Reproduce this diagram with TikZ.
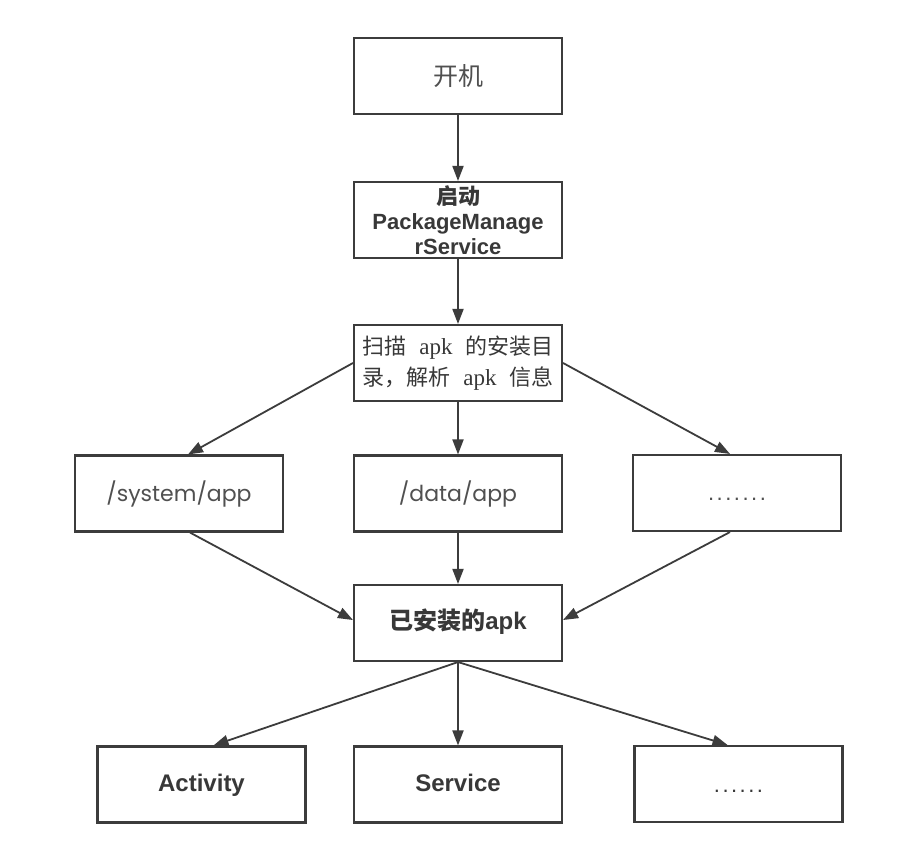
\documentclass[tikz,border=0pt]{standalone}
\usepackage{fontspec}
\setmainfont{Liberation Sans}
\newfontfamily\cjk{Noto Sans CJK SC}
\newfontfamily\serifrm{Liberation Serif}
\newfontfamily\geo{Poppins}
\usetikzlibrary{arrows.meta}

\definecolor{ink}{HTML}{3C3C3C}
\definecolor{txt}{HTML}{383838}
\definecolor{softtxt}{HTML}{505050}

% a row of widely spaced dots
\newcommand\dotrow[2]{\rule{0pt}{#2}\foreach \k in {1,...,#1}{\ifnum\k>1\kern2.5pt\fi.}}

\begin{document}
\begin{tikzpicture}[x=1pt,y=-1pt,
  box/.style={draw=ink, line width=2.1pt, minimum width=208pt, minimum height=76pt,
              inner sep=0pt, text=txt, align=center},
  arr/.style={draw=ink, line width=1.8pt, -{Triangle[length=15pt,width=11pt]}},
  pathfont/.style={font=\geo\fontsize{22}{26}\selectfont, text=softtxt},
  boldfont/.style={font=\bfseries\fontsize{24}{28}\selectfont, text height=18pt, text depth=5pt}
]
\useasboundingbox[fill=white] (0,0) rectangle (924,852);

% top chain
\node[box, font=\cjk\fontsize{25}{28}\selectfont, text=softtxt] (boot) at (458,76) {开机};
\node[box, font=\bfseries\fontsize{22}{25}\selectfont] (pms) at (458,220)
  {{\cjk 启动}\\PackageManage\\rService};
\node[box, font=\fontsize{22}{31}\selectfont] (scan) at (458,363)
  {{\cjk 扫描}\hspace{0.6em}{\serifrm\fontsize{23}{31}\selectfont apk}\hspace{0.6em}{\cjk 的安装目}\\
   {\cjk 录，解析}\hspace{0.6em}{\serifrm\fontsize{23}{31}\selectfont apk}\hspace{0.6em}{\cjk 信息}};

% install directories
\node[box, pathfont] (sys)   at (179,493.5)   {/system/app};
\node[box, pathfont] (data)  at (458,493.5)   {/data/app};
\node[box, font=\fontsize{22}{26}\selectfont, text=softtxt] (more1) at (737,493) {\dotrow{7}{14pt}};

% installed packages
\node[box, boldfont] (inst) at (458,623) {{\cjk 已安装的}apk};

% components
\node[box, boldfont] (act)   at (201.5,784.5) {Activity};
\node[box, boldfont] (svc)   at (458,784.5)   {Service};
\node[box, font=\fontsize{22}{26}\selectfont] (more2) at (738.5,784) {\dotrow{6}{16pt}};

% connectors
\draw[arr] (boot.south) -- (pms.north);
\draw[arr] (pms.south) -- (scan.north);
\draw[arr] (scan.west) -- ([xshift=9pt]sys.north);
\draw[arr] (scan.south) -- (data.north);
\draw[arr] (scan.east) -- ([xshift=-7pt]more1.north);
\draw[arr] ([xshift=11pt]sys.south) -- ([yshift=3pt]inst.west);
\draw[arr] (data.south) -- (inst.north);
\draw[arr] ([xshift=-7pt]more1.south) -- ([yshift=3pt]inst.east);
\draw[arr] (inst.south) -- ([xshift=12pt]act.north);
\draw[arr] (inst.south) -- (svc.north);
\draw[arr] (inst.south) -- ([xshift=-11pt]more2.north);
\end{tikzpicture}
\end{document}
